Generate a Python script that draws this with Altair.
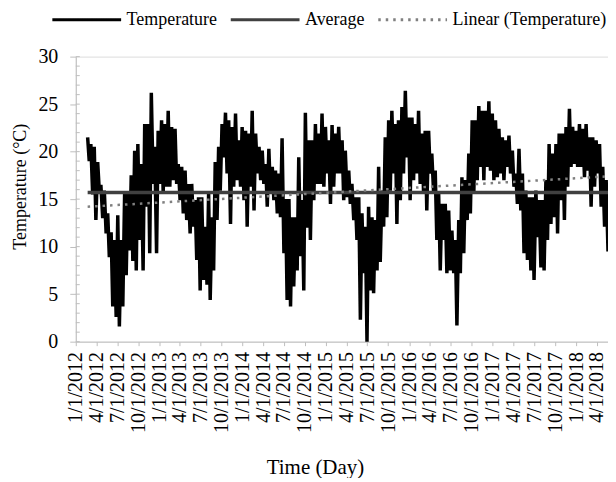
import altair as alt
import pandas as pd

# ---------------- data ----------------
SERIES = ["Temperature", "Average", "Linear (Temperature)"]
SERIES_COLORS = ["#000000", "#404040", "#808080"]
SERIES_DASH = [[1, 0], [1, 0], [2.5, 5]]

# date spans of the three stretches of the daily record (start, end)
SEG_A_SPAN = ("2012-02-22", "2014-03-07")
SEG_B_SPAN = ("2014-03-14", "2016-02-04")
SEG_C_SPAN = ("2016-02-11", "2018-05-21")

# envelope of the daily temperature (high, low pairs, about weekly), degC
temp_a = [21.5, 19.0, 20.8, 15.5, 20.5, 12.8, 18.9, 15.9, 16.5, 13.0, 15.9, 11.4,
          13.5, 8.9, 11.5, 3.7, 10.7, 2.6, 13.3, 1.6, 10.7, 3.7, 15.6, 7.0,
          15.6, 9.6, 17.5, 8.5, 20.1, 7.5, 20.8, 10.7, 18.7, 7.5, 22.9, 14.2,
          22.9, 9.3, 26.2, 16.6, 20.5, 9.3, 22.2, 16.6, 23.3, 15.6, 22.9, 16.3,
          24.3, 16.3, 22.6, 17.0, 22.4, 16.6, 18.7, 14.9, 18.4, 13.5, 18.0, 12.8,
          16.6, 11.4, 16.6, 12.1, 14.9, 8.6, 15.2, 5.4, 15.2, 6.5, 12.1, 6.0,
          15.6, 4.4, 13.1, 7.5, 18.9, 12.8, 20.5, 15.9, 22.9, 19.4, 24.1, 17.7,
          23.3, 12.4, 22.6, 16.3, 24.0, 17.0, 21.2, 16.3, 22.6, 14.9, 22.2, 12.1,
          21.9, 16.3, 24.3, 13.8, 21.9, 17.7]
temp_b = [20.5, 17.0, 20.1, 16.6, 18.7, 14.2, 20.3, 15.6, 18.4, 14.9, 18.0, 13.5,
          17.7, 13.1, 21.4, 9.3, 15.0, 4.4, 15.0, 3.7, 13.1, 5.8, 13.1, 7.5,
          19.4, 9.0, 14.9, 5.4, 24.1, 12.0, 21.2, 10.7, 21.2, 14.9, 22.9, 16.6,
          21.9, 16.6, 24.0, 16.3, 22.6, 17.7, 21.2, 14.5, 22.8, 16.3, 21.9, 17.7,
          22.6, 17.7, 21.2, 14.9, 20.1, 15.2, 18.0, 14.5, 16.6, 12.8, 15.2, 10.7,
          15.2, 2.3, 13.5, 7.2, 12.1, 0.0, 14.2, 5.4, 13.1, 5.1, 12.8, 7.5,
          18.4, 8.4, 15.9, 12.1, 21.5, 13.1, 23.3, 15.9, 24.3, 17.7, 22.9, 12.4,
          23.3, 14.9, 24.7, 17.7, 26.4, 19.4, 23.6, 14.9, 23.6, 17.0, 22.9, 17.7]
temp_c = [24.3, 16.6, 21.9, 15.6, 22.2, 13.8, 22.2, 17.7, 19.8, 15.6, 18.0, 10.7,
          15.6, 7.5, 14.5, 10.7, 14.5, 7.2, 13.8, 7.5, 11.7, 7.2, 10.7, 1.7,
          12.8, 7.2, 17.3, 9.3, 17.0, 12.8, 19.8, 13.5, 23.3, 15.6, 23.3, 17.0,
          24.8, 18.4, 24.3, 17.0, 24.3, 18.4, 25.3, 18.0, 24.0, 17.0, 23.3, 17.3,
          22.4, 17.7, 21.5, 17.0, 21.2, 18.4, 21.7, 17.7, 20.1, 16.3, 17.7, 14.5,
          20.3, 13.8, 17.7, 9.3, 15.9, 8.6, 15.2, 7.5, 15.2, 6.5, 15.9, 11.0,
          14.9, 7.8, 14.9, 7.5, 17.0, 10.7, 20.8, 12.4, 19.8, 13.1, 20.8, 11.4,
          21.9, 14.9, 21.9, 12.8, 22.6, 16.3, 24.5, 18.4, 22.6, 18.7, 22.2, 18.4,
          22.9, 18.4, 22.4, 17.3, 22.9, 18.0, 21.5, 14.2, 21.5, 16.3, 21.2, 17.7,
          20.8, 14.2, 18.4, 12.1, 17.0, 9.5]

AVERAGE = 15.7
TREND_START = 14.2
TREND_END = 17.4

X_DOMAIN = ("2012-01-01", "2018-05-21")
X_TICK_START, X_TICK_END = "2012-01-01", "2018-04-01"
Y_TICKS = [0, 5, 10, 15, 20, 25, 30]
Y_MINOR = list(range(0, 31))

FONT = "Liberation Serif"


def ms(s):
    return int(pd.Timestamp(s, tz="UTC").timestamp() * 1000)


def segment(span, vals):
    d = pd.date_range(span[0], span[1], periods=len(vals))
    return pd.DataFrame({"date": d.strftime("%Y-%m-%d"), "value": vals})


temp_df = pd.concat([segment(SEG_A_SPAN, temp_a),
                     segment(SEG_B_SPAN, temp_b),
                     segment(SEG_C_SPAN, temp_c)], ignore_index=True)
temp_df["series"] = SERIES[0]
first_date, last_date = temp_df["date"].iloc[0], temp_df["date"].iloc[-1]
avg_df = pd.DataFrame({"date": [first_date, last_date],
                       "value": [AVERAGE, AVERAGE], "series": SERIES[1]})
trend_df = pd.DataFrame({"date": [first_date, last_date],
                         "value": [TREND_START, TREND_END], "series": SERIES[2]})
minor_df = pd.DataFrame({"v": Y_MINOR})

x_ticks = [ms(d) for d in pd.date_range(X_TICK_START, X_TICK_END, freq="QS")]

x_enc = alt.X(
    "date:T",
    scale=alt.Scale(type="utc", domain=[ms(X_DOMAIN[0]), ms(X_DOMAIN[1])]),
    axis=alt.Axis(
        values=x_ticks, format="%-m/%-d/%Y", labelAngle=270, labelOverlap=False,
        labelFont=FONT, labelFontSize=20, labelColor="#000000", labelPadding=6,
        tickSize=4, tickColor="#bfbfbf", domainColor="#bfbfbf", grid=False,
        title="Time (Day)", titleFont=FONT, titleFontSize=21, titleFontWeight="normal",
        titleColor="#000000", titleX=240, titleY=132, titleAlign="center",
        titleBaseline="alphabetic", labelFlush=False,
    ),
)
y_enc = alt.Y(
    "value:Q",
    scale=alt.Scale(domain=[0, 30], nice=False, zero=False),
    axis=alt.Axis(
        values=Y_TICKS, labelFont=FONT, labelFontSize=20, labelColor="#000000",
        labelPadding=12, tickSize=6, tickColor="#bfbfbf", domainColor="#bfbfbf",
        grid=False, title="Temperature (°C)", titleFont=FONT, titleFontSize=18,
        titleFontWeight="normal", titleColor="#000000", titleX=-50, titleY=130,
        titleAngle=270, titleAlign="center", titleBaseline="alphabetic",
    ),
)
color_enc = alt.Color(
    "series:N",
    scale=alt.Scale(domain=SERIES, range=SERIES_COLORS),
    legend=alt.Legend(
        title=None, orient="none", direction="horizontal", legendX=-25, legendY=-73,
        symbolType="stroke", symbolSize=4761, symbolStrokeWidth=3,
        labelFont=FONT, labelFontSize=18, labelColor="#000000", labelLimit=400,
        labelOffset=4, columnPadding=7, padding=0, gridAlign="none",
    ),
)
dash_enc = alt.StrokeDash("series:N", scale=alt.Scale(domain=SERIES, range=SERIES_DASH))

temp_line = alt.Chart(temp_df).mark_line(strokeWidth=3.5).encode(
    x=x_enc, y=y_enc, color=color_enc, strokeDash=dash_enc)
avg_line = alt.Chart(avg_df).mark_line(strokeWidth=3.5).encode(
    x=x_enc, y=y_enc, color=color_enc, strokeDash=dash_enc)
trend_line = alt.Chart(trend_df).mark_line(strokeWidth=2.5).encode(
    x=x_enc, y=y_enc, color=color_enc, strokeDash=dash_enc)
minor_ticks = alt.Chart(minor_df).mark_rule(color="#bfbfbf", strokeWidth=1).encode(
    y=alt.Y("v:Q", scale=alt.Scale(domain=[0, 30], nice=False, zero=False)),
    x=alt.value(0), x2=alt.value(4))

chart = alt.layer(minor_ticks, temp_line, avg_line, trend_line).properties(
    width=534, height=286,
    autosize=alt.AutoSizeParams(type="none"),
    padding={"left": 68, "top": 48, "right": 0, "bottom": 136},
).configure_view(strokeWidth=0).configure(background="white")

chart.save("out.html", embed_options={"renderer": "svg", "actions": False})
